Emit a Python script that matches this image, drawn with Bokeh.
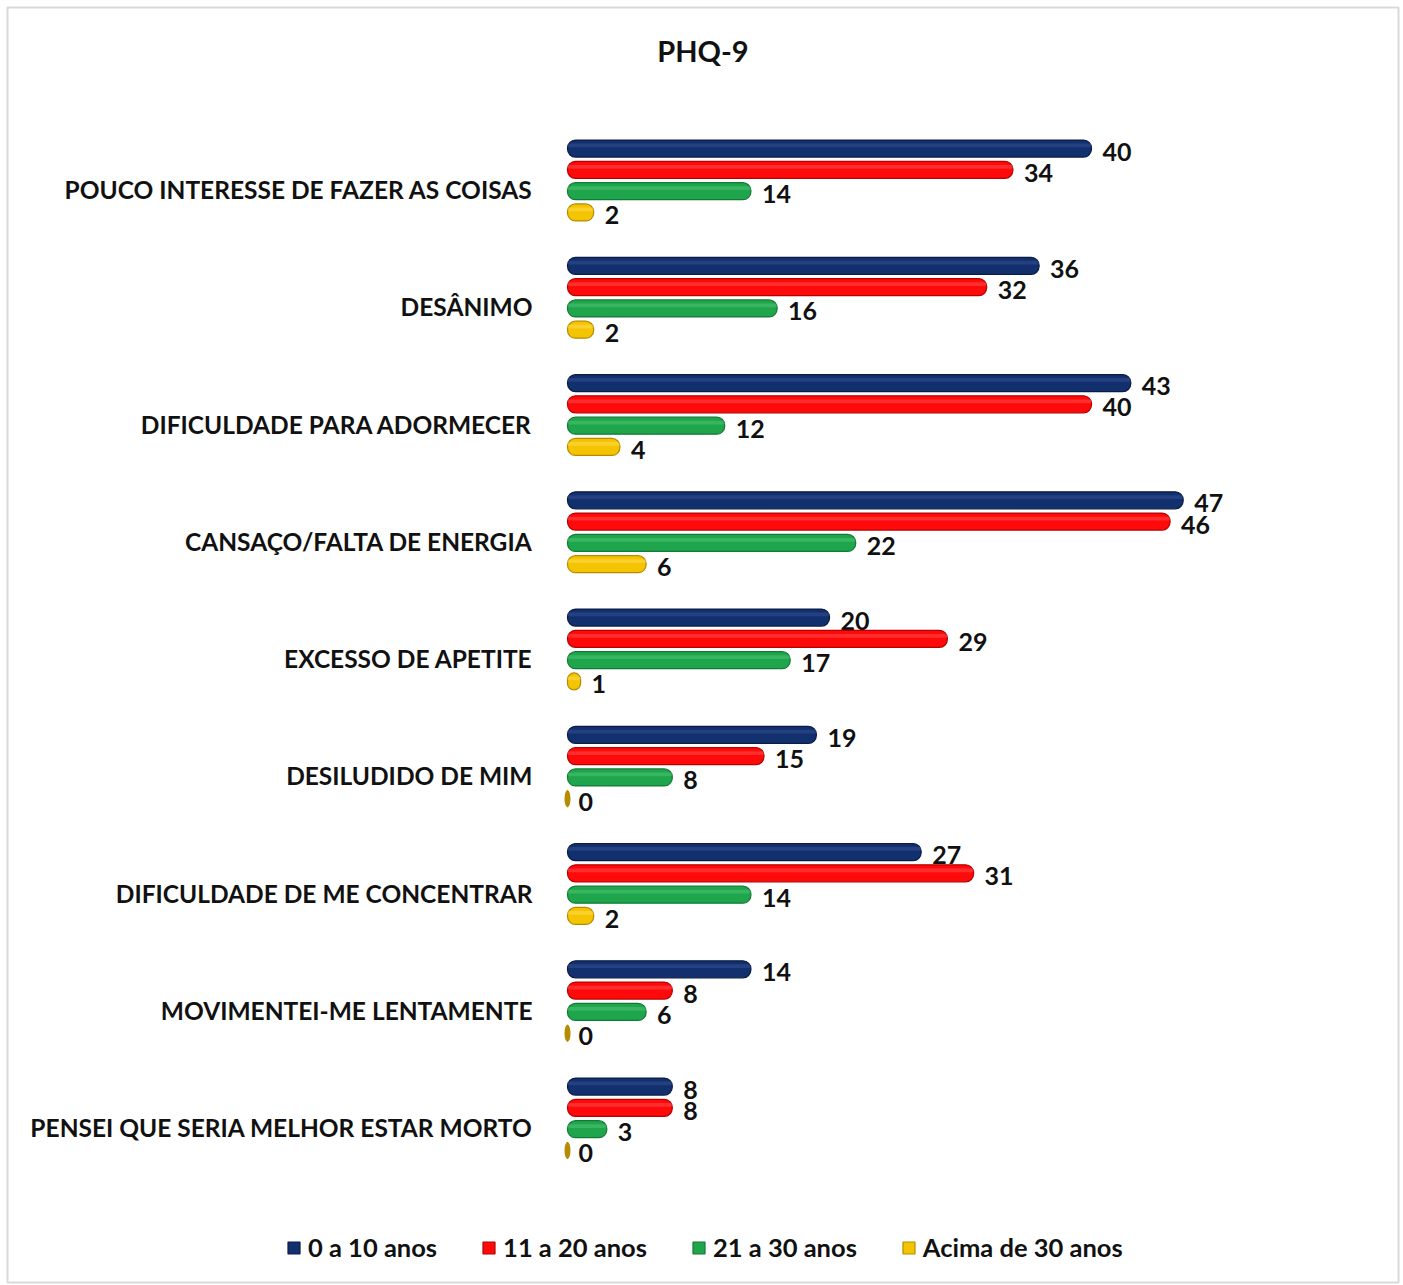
from bokeh.plotting import figure
from bokeh.models import Range1d, ColumnDataSource, Legend, LegendItem, Label
from bokeh.core.properties import value
from bokeh.embed import file_html
from bokeh.resources import INLINE

# ---------------- data ----------------
title = "PHQ-9"
categories = [
    "POUCO INTERESSE DE FAZER AS COISAS",
    "DESÂNIMO",
    "DIFICULDADE PARA ADORMECER",
    "CANSAÇO/FALTA DE ENERGIA",
    "EXCESSO DE APETITE",
    "DESILUDIDO DE MIM",
    "DIFICULDADE DE ME CONCENTRAR",
    "MOVIMENTEI-ME LENTAMENTE",
    "PENSEI QUE SERIA MELHOR ESTAR MORTO",
]
series_names = ["0 a 10 anos", "11 a 20 anos", "21 a 30 anos", "Acima de 30 anos"]
s_0_10 = [40, 36, 43, 47, 20, 19, 27, 14, 8]
s_11_20 = [34, 32, 40, 46, 29, 15, 31, 8, 8]
s_21_30 = [14, 16, 12, 22, 17, 8, 14, 6, 3]
s_30_plus = [2, 2, 4, 6, 1, 0, 2, 0, 0]
series_values = [s_0_10, s_11_20, s_21_30, s_30_plus]

fill_colors = ["#13306e", "#ff0a0a", "#1fa64c", "#f5c400"]
edge_colors = ["#0a1c45", "#b80000", "#137a34", "#b58c00"]
shine_colors = ["#3a5597", "#ff5a5a", "#55c77b", "#ffe066"]

# ---------------- layout ----------------
W, H = 1403, 1285
ML, MT, MR, MB = 7, 7, 5, 3
FW, FH = W - ML - MR, H - MT - MB
PX_PER_UNIT = 13.1          # px per value unit
ZERO_PX = 560               # value 0 inside frame
GROUP_PX = 117.25           # distance between categories
FIRST_GROUP_PX = 173        # first category centre inside frame
BAR_STEP = 21.3 / GROUP_PX
BAR_H = 17 / GROUP_PX

x_start = -ZERO_PX / PX_PER_UNIT
x_end = x_start + FW / PX_PER_UNIT
y_end = FIRST_GROUP_PX / GROUP_PX
y_start = y_end - FH / GROUP_PX

p = figure(width=W, height=H, output_backend="svg", toolbar_location=None,
           x_range=Range1d(x_start, x_end), y_range=Range1d(y_start, y_end),
           x_axis_location=None, y_axis_location=None,
           min_border_left=ML, min_border_top=MT, min_border_right=MR, min_border_bottom=MB)
p.grid.visible = False
p.outline_line_color = "#d9d9d9"
p.outline_line_width = 2
p.background_fill_color = "white"
p.border_fill_color = "white"

group_y = [-i for i in range(len(categories))]

legend_items = []
for j, (name, vals) in enumerate(zip(series_names, series_values)):
    ys = [g + (1.5 - j) * BAR_STEP for g in group_y]
    src = ColumnDataSource(dict(y=ys, v=vals, lbl=[str(v) for v in vals]))
    r = p.hbar(y="y", left=0, right="v", height=BAR_H, source=src,
               fill_color=fill_colors[j], line_color=edge_colors[j], line_width=1.2,
               border_radius=8)
    # light highlight for a cylindrical look
    src2 = ColumnDataSource(dict(y=[y + BAR_H * 0.18 for y in ys], v=vals))
    p.hbar(y="y", left=0, right="v", height=BAR_H * 0.22, source=src2,
           fill_color=shine_colors[j], fill_alpha=0.45, line_color=None, border_radius=3)
    # zero-length cylinders show only their end cap
    zy = [y for y, v in zip(ys, vals) if v == 0]
    zv = [v for v in vals if v == 0]
    if zv:
        p.ellipse(x=zv, y=zy, width=6, height=BAR_H, width_units="screen",
                  fill_color=edge_colors[j], line_color=None)
    p.text(x="v", y="y", text="lbl", source=src, x_offset=11, y_offset=3,
           text_align="left", text_baseline="middle",
           text_font=value("Lato"), text_font_style="bold", text_font_size="25px",
           text_color="#111111")
    legend_items.append(LegendItem(label=name, renderers=[r]))

cat_src = ColumnDataSource(dict(x=[0] * len(categories), y=group_y, t=categories))
p.text(x="x", y="y", text="t", source=cat_src, x_offset=-35, y_offset=9,
       text_align="right", text_baseline="middle",
       text_font=value("Lato"), text_font_style="bold", text_font_size="24.5px",
       text_color="#111111")

p.add_layout(Label(x=(x_start + x_end) / 2, y=y_end - 43 / GROUP_PX, text=title,
                   text_align="center", text_baseline="middle",
                   text_font="Lato", text_font_style="bold", text_font_size="29px",
                   text_color="#111111"))

legend = Legend(items=legend_items, orientation="horizontal", location=(279, 20),
                label_text_font="Lato", label_text_font_style="bold",
                label_text_font_size="25.5px", label_text_color="#111111",
                glyph_width=15, glyph_height=15, label_standoff=7, spacing=44,
                padding=0, margin=0, border_line_color=None, background_fill_alpha=0)
p.add_layout(legend)

open("out.html", "w").write(file_html(p, INLINE))
